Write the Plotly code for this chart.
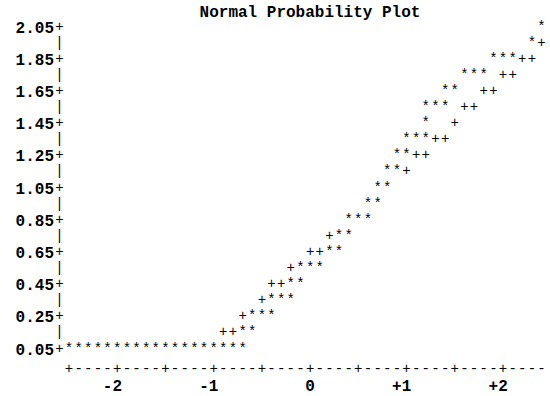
import plotly.graph_objects as go

# ---- data ----
y_tick_vals = [0.05, 0.25, 0.45, 0.65, 0.85, 1.05, 1.25, 1.45, 1.65, 1.85, 2.05]
y_tick_text = ["0.05", "0.25", "0.45", "0.65", "0.85", "1.05", "1.25", "1.45", "1.65", "1.85", "2.05"]
x_tick_vals = [-2, -1, 0, 1, 2]
x_tick_text = ["-2\u00a0", "-1\u00a0", "0", "+1\u00a0", "+2\u00a0"]

# observed data ('*'): normal quantile, value
star_q = [-2.5, -2.4, -2.3, -2.2, -2.1, -2.0, -1.9, -1.8, -1.7, -1.6, -1.5, -1.4, -1.3, -1.2, -1.1, -1.0, -0.9, -0.8, -0.7,
          -0.7, -0.6,
          -0.6, -0.5, -0.4,
          -0.4, -0.3, -0.2,
          -0.2, -0.1,
          -0.1, 0.0, 0.1,
          0.2, 0.3,
          0.3, 0.4,
          0.4, 0.5, 0.6,
          0.6, 0.7,
          0.7, 0.8,
          0.8, 0.9,
          0.9, 1.0,
          1.0, 1.1, 1.2,
          1.2,
          1.2, 1.3, 1.4,
          1.4, 1.5,
          1.6, 1.7, 1.8,
          1.9, 2.0, 2.1,
          2.3,
          2.4, 2.5]
star_v = [0.05] * 19 + [
          0.15, 0.15,
          0.25, 0.25, 0.25,
          0.35, 0.35, 0.35,
          0.45, 0.45,
          0.55, 0.55, 0.55,
          0.65, 0.65,
          0.75, 0.75,
          0.85, 0.85, 0.85,
          0.95, 0.95,
          1.05, 1.05,
          1.15, 1.15,
          1.25, 1.25,
          1.35, 1.35, 1.35,
          1.45,
          1.55, 1.55, 1.55,
          1.65, 1.65,
          1.75, 1.75, 1.75,
          1.85, 1.85, 1.85,
          1.95,
          2.05, 2.05]

# reference line ('+'): normal quantile, value
plus_q = [-0.9, -0.8, -0.7, -0.5, -0.4, -0.3, -0.2, 0.0, 0.1, 0.2,
          1.0, 1.1, 1.2, 1.3, 1.4, 1.5, 1.6, 1.7, 1.8, 1.9, 2.0, 2.1, 2.2, 2.3, 2.4]
plus_v = [0.15, 0.15, 0.25, 0.35, 0.45, 0.45, 0.55, 0.65, 0.65, 0.75,
          1.15, 1.25, 1.25, 1.35, 1.35, 1.45, 1.55, 1.55, 1.65, 1.65, 1.75, 1.75, 1.85, 1.85, 1.95]

# ---- line-printer frame (built from the axis extents) ----
y_axis_q = -2.6
x_axis_v = -0.075
frame_q, frame_v, frame_t = [], [], []
for i in range(21):
    frame_q.append(y_axis_q)
    frame_v.append(round(0.05 + 0.1 * i, 2))
    frame_t.append("+" if i % 2 == 0 else "|")
for j in range(51):
    frame_q.append(round(-2.5 + 0.1 * j, 2))
    frame_v.append(x_axis_v)
    frame_t.append("+" if j % 5 == 0 else "-")

mono = "Liberation Mono"
mark_size = 14
fig = go.Figure()
fig.add_trace(go.Scatter(x=frame_q, y=frame_v, mode="text", text=frame_t,
                         textfont=dict(family=mono, size=mark_size, color="#000"),
                         cliponaxis=False, hoverinfo="skip", showlegend=False))
fig.add_trace(go.Scatter(x=plus_q, y=plus_v, mode="text", text=["+"] * len(plus_q),
                         textfont=dict(family=mono, size=mark_size, color="#000"),
                         cliponaxis=False, hoverinfo="skip", showlegend=False))
fig.add_trace(go.Scatter(x=star_q, y=star_v, mode="text", text=["*"] * len(star_q),
                         textfont=dict(family=mono, size=mark_size, color="#000"),
                         cliponaxis=False, hoverinfo="skip", showlegend=False))

fig.update_layout(
    width=550, height=396,
    margin=dict(l=55, r=0, t=0, b=22, autoexpand=False),
    paper_bgcolor="white", plot_bgcolor="white",
    title=dict(text="Normal Probability Plot", x=310 / 550, xref="container", xanchor="center",
               y=1 - 11 / 396, yref="container", yanchor="middle",
               font=dict(family=mono, size=16, color="#000", weight="bold")),
    xaxis=dict(range=[-2.645, 2.4876], showgrid=False, zeroline=False, showline=False, ticks="",
               tickvals=x_tick_vals, ticktext=x_tick_text, automargin=False,
               tickfont=dict(family=mono, size=16, color="#000", weight="bold")),
    yaxis=dict(range=[-0.1053, 2.2177], showgrid=False, zeroline=False, showline=False, ticks="",
               tickvals=y_tick_vals, ticktext=y_tick_text, automargin=False,
               tickfont=dict(family=mono, size=16, color="#000", weight="bold")),
)
fig.write_html("out.html")
